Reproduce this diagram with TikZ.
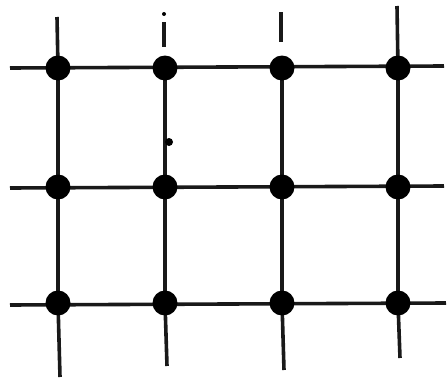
\documentclass[tikz,border=0pt]{standalone}
\begin{document}
\begin{tikzpicture}[x=1pt,y=-1pt,
  gridline/.style={line width=3.6pt,black!90},
  dot/.style={circle,fill=black,inner sep=0pt,minimum size=25pt}]
\useasboundingbox (0,0) rectangle (448,380);
% dots
\foreach \c/\x in {1/58,2/165,3/282,4/398}{
  \foreach \r/\y in {1/68,2/187,3/303}{
    \coordinate (p\c\r) at (\x,\y);
  }
}
% stub ends
\coordinate (t1) at (57,17);
\coordinate (t2) at (164,22);
\coordinate (t2a) at (164,47);
\coordinate (t2d) at (164,14);
\coordinate (t3a) at (281,12);
\coordinate (t3b) at (281,42);
\coordinate (t4) at (397,6);
\coordinate (b1) at (60,377);
\coordinate (b2) at (167,366);
\coordinate (b3) at (284,370);
\coordinate (b4) at (400,358);
\coordinate (l1) at (10,68);
\coordinate (r1) at (444,66);
\coordinate (l2) at (10,188);
\coordinate (r2) at (444,186);
\coordinate (l3) at (10,305);
\coordinate (r3) at (446,303);
% horizontal lines
\draw[gridline] (l1) -- (r1);
\draw[gridline] (l2) -- (r2);
\draw[gridline] (l3) -- (r3);
% vertical lines
\draw[gridline] (t1) -- (p11) -- (p12) -- (p13) -- (b1);
\draw[gridline] (t2) -- (t2a);
\fill (t2d) circle (2pt);
\draw[gridline] (p21) -- (p22) -- (p23) -- (b2);
\draw[gridline] (t3a) -- (t3b);
\draw[gridline] (p31) -- (p32) -- (p33) -- (b3);
\draw[gridline] (t4) -- (p41) -- (p42) -- (p43) -- (b4);
% small mark
\coordinate (m) at (169,142);
\fill (m) circle (4pt);
% dots
\foreach \c in {1,2,3,4}{
  \foreach \r in {1,2,3}{
    \node[dot] (n\c\r) at (p\c\r) {};
  }
}
\end{tikzpicture}
\end{document}
